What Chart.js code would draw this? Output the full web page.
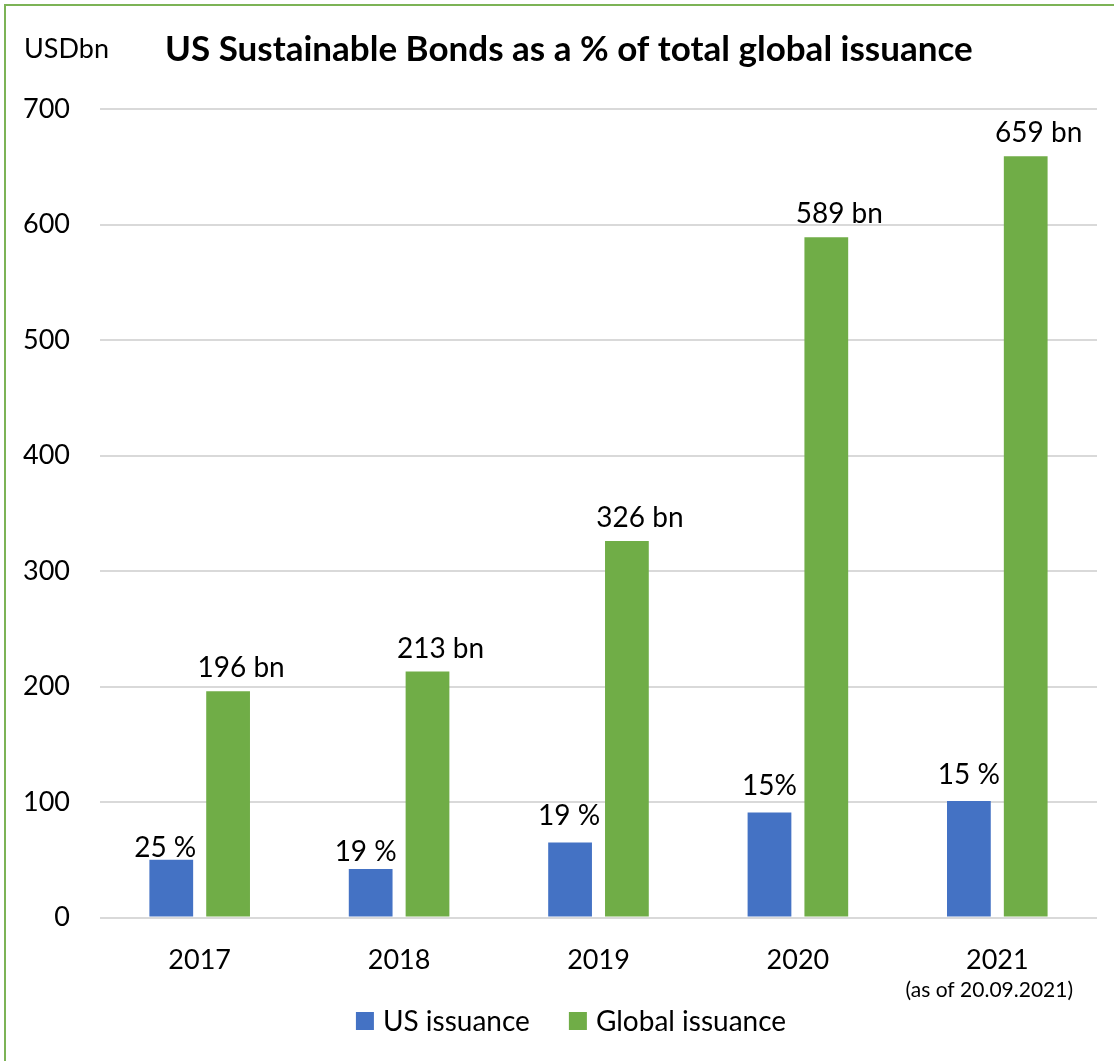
<!DOCTYPE html>
<html>
<head>
<meta charset="utf-8">
<script src="https://cdn.jsdelivr.net/npm/chart.js@4.4.1/dist/chart.umd.min.js"></script>
<style>
  html, body { margin: 0; padding: 0; background: #fff; }
  #wrap { position: relative; width: 1114px; height: 1061px; }
  #frame { position: absolute; left: 4px; top: 4px; right: 0; bottom: 0;
           border-top: 2px solid #7cb356; border-left: 2px solid #7cb356; pointer-events: none; }
</style>
</head>
<body>
<div id="wrap">
  <canvas id="c" width="1114" height="1061"></canvas>
  <div id="frame"></div>
</div>
<script>
const categories = ['2017', '2018', '2019', '2020', '2021'];
const usIssuance = [50, 42, 65, 91, 101];
const globalIssuance = [196, 213, 326, 589, 659];
const usLabels = ['25 %', '19 %', '19 %', '15%', '15 %'];
const globalLabels = ['196 bn', '213 bn', '326 bn', '589 bn', '659 bn'];
const yTicks = [0, 100, 200, 300, 400, 500, 600, 700];
const titleText = 'US Sustainable Bonds as a % of total global issuance';
const unitText = 'USDbn';
const noteText = '(as of 20.09.2021)';

const FONT = 'Lato, "Open Sans", sans-serif';

const labelPlugin = {
  id: 'labels',
  afterDatasetsDraw(chart) {
    const ctx = chart.ctx;
    // label placement styling (manual offsets as in the original)
    const usGap = [3, 8, 18, 17, 17];
    const usDx = [-6, -5, -1, 0, 0];
    ctx.save();
    ctx.fillStyle = '#000';
    ctx.textAlign = 'center';
    ctx.textBaseline = 'alphabetic';
    ctx.font = '28px ' + FONT;
    chart.getDatasetMeta(0).data.forEach((bar, i) => {
      ctx.fillText(usLabels[i], bar.x + usDx[i], bar.y - usGap[i]);
    });
    chart.getDatasetMeta(1).data.forEach((bar, i) => {
      ctx.fillText(globalLabels[i], bar.x + 13, bar.y - 14);
    });
    // title and unit
    ctx.font = 'bold 35px ' + FONT;
    ctx.textAlign = 'left';
    ctx.fillText(titleText, 165, 61);
    ctx.font = '27px ' + FONT;
    ctx.fillText(unitText, 24, 58);
    // note under last category
    const xs = chart.scales.x;
    ctx.font = '21px ' + FONT;
    ctx.textAlign = 'center';
    ctx.fillText(noteText, xs.getPixelForValue(categories.length - 1) - 8, 997);

    // legend (from datasets)
    ctx.font = '28px ' + FONT;
    ctx.textAlign = 'left';
    ctx.textBaseline = 'middle';
    const box = 18, gapText = 9, gapItem = 39;
    const items = chart.data.datasets.map(ds => ({ text: ds.label, color: ds.backgroundColor }));
    let total = 0;
    items.forEach((it, i) => {
      it.w = ctx.measureText(it.text).width;
      total += box + gapText + it.w + (i < items.length - 1 ? gapItem : 0);
    });
    let x = 571 - total / 2;
    const yc = 1021;
    items.forEach(it => {
      ctx.fillStyle = it.color;
      ctx.fillRect(x, yc - box / 2, box, box);
      ctx.fillStyle = '#000';
      ctx.fillText(it.text, x + box + gapText, yc + 1);
      x += box + gapText + it.w + gapItem;
    });
    ctx.restore();
  }
};

new Chart(document.getElementById('c'), {
  type: 'bar',
  data: {
    labels: categories,
    datasets: [
      { label: 'US issuance', data: usIssuance, backgroundColor: '#4472C4',
        categoryPercentage: 0.57, barPercentage: 0.77 },
      { label: 'Global issuance', data: globalIssuance, backgroundColor: '#70AD47',
        categoryPercentage: 0.57, barPercentage: 0.77 }
    ]
  },
  options: {
    responsive: false,
    animation: false,
    devicePixelRatio: 1,
    layout: { padding: { left: -7, right: 17, top: 109, bottom: 59 } },
    plugins: {
      title: { display: false },
      tooltip: { enabled: false },
      legend: { display: false }
    },
    scales: {
      x: {
        grid: { display: false, drawTicks: false },
        border: { display: false },
        ticks: { font: { family: FONT, size: 27 }, color: '#000', padding: 26 }
      },
      y: {
        min: 0, max: 700,
        afterBuildTicks(scale) { scale.ticks = yTicks.map(v => ({ value: v })); },
        grid: { color: '#d9d9d9', lineWidth: 2, drawTicks: false },
        border: { display: false },
        ticks: { font: { family: FONT, size: 27 }, color: '#000', padding: 30 }
      }
    }
  },
  plugins: [labelPlugin]
});
</script>
</body>
</html>
